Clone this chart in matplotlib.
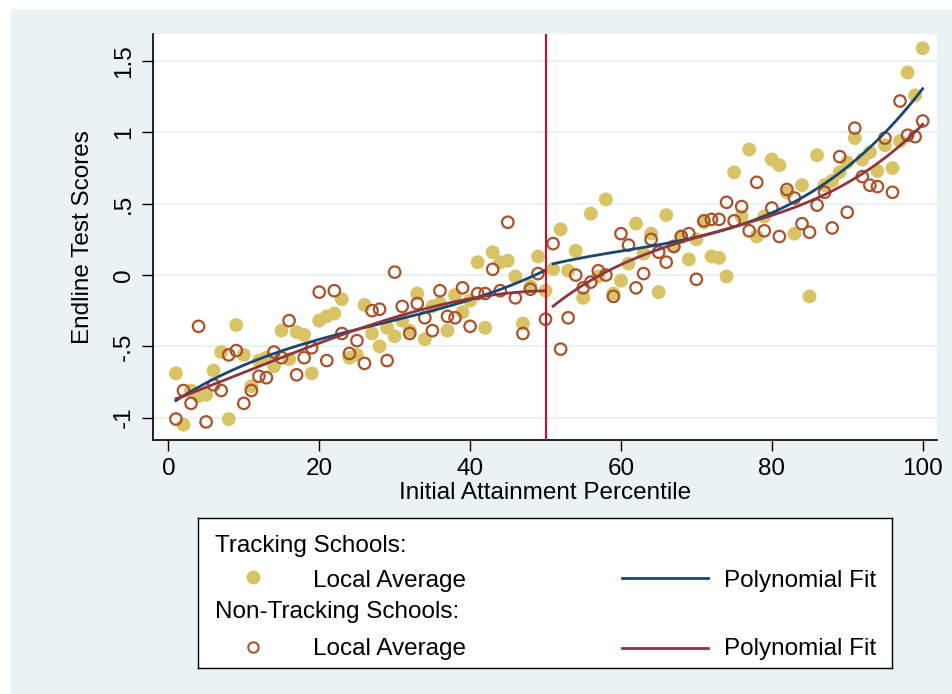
import numpy as np
import matplotlib.pyplot as plt
from matplotlib.patches import Rectangle
from matplotlib.lines import Line2D

plt.rcParams['font.family'] = ['Liberation Sans', 'DejaVu Sans']

# percentile bins 1..100
pct = np.arange(1, 101)

# local averages, tracking schools
track = [-0.69, -1.05, -0.81, -0.85, -0.84, -0.67, -0.54, -1.01, -0.35, -0.56,
         -0.78, -0.60, -0.58, -0.64, -0.39, -0.59, -0.40, -0.42, -0.69, -0.32,
         -0.29, -0.27, -0.17, -0.58, -0.56, -0.21, -0.41, -0.50, -0.37, -0.43,
         -0.32, -0.39, -0.13, -0.45, -0.22, -0.20, -0.39, -0.14, -0.26, -0.18,
         0.09, -0.37, 0.16, 0.09, 0.10, -0.01, -0.34, -0.08, 0.13, -0.11,
         0.04, 0.32, 0.03, 0.17, -0.16, 0.43, -0.01, 0.53, -0.13, -0.04,
         0.08, 0.36, 0.15, 0.29, -0.12, 0.42, 0.20, 0.27, 0.11, 0.25,
         0.37, 0.13, 0.12, -0.01, 0.72, 0.41, 0.88, 0.27, 0.41, 0.81,
         0.77, 0.58, 0.29, 0.63, -0.15, 0.84, 0.63, 0.66, 0.72, 0.79,
         0.96, 0.81, 0.86, 0.73, 0.91, 0.75, 0.94, 1.42, 1.26, 1.59]

# local averages, non-tracking schools
nontrack = [-1.01, -0.81, -0.90, -0.36, -1.03, -0.77, -0.81, -0.56, -0.53, -0.90,
            -0.81, -0.71, -0.72, -0.54, -0.58, -0.32, -0.70, -0.58, -0.51, -0.12,
            -0.60, -0.11, -0.41, -0.55, -0.46, -0.62, -0.25, -0.24, -0.60, 0.02,
            -0.22, -0.41, -0.20, -0.30, -0.39, -0.11, -0.29, -0.30, -0.09, -0.36,
            -0.13, -0.13, 0.04, -0.11, 0.37, -0.16, -0.41, -0.10, 0.01, -0.31,
            0.22, -0.52, -0.30, 0.00, -0.09, -0.05, 0.03, 0.00, -0.15, 0.29,
            0.21, -0.09, 0.01, 0.25, 0.16, 0.09, 0.20, 0.27, 0.29, -0.03,
            0.38, 0.39, 0.39, 0.51, 0.38, 0.48, 0.31, 0.65, 0.31, 0.47,
            0.27, 0.60, 0.54, 0.36, 0.30, 0.49, 0.58, 0.33, 0.83, 0.44,
            1.03, 0.69, 0.63, 0.62, 0.96, 0.58, 1.22, 0.98, 0.97, 1.08]

cutoff = 50
yticks = [-1, -0.5, 0, 0.5, 1, 1.5]
ytick_labels = ['-1', '-.5', '0', '.5', '1', '1.5']
xticks = [0, 20, 40, 60, 80, 100]

bg = '#EAF2F3'
c_track = '#D8C467'
c_non = '#A8532B'
c_blue = '#1A476F'
c_red = '#90353B'
c_cut = '#C8102E'

track = np.array(track)
nontrack = np.array(nontrack)


def polyfit_side(x, y, lo, hi, deg=3):
    m = (x >= lo) & (x <= hi)
    coef = np.polyfit(x[m], y[m], deg)
    xs = np.linspace(lo, hi, 100)
    return xs, np.polyval(coef, xs)


fs = 17.5

fig = plt.figure(figsize=(9.53, 6.94), dpi=100)
fig.patch.set_facecolor('white')
fig.patches.append(Rectangle((11 / 953, 0), 1, 1 - 9 / 694, transform=fig.transFigure,
                             facecolor=bg, edgecolor='none', zorder=-10))

ax = fig.add_axes([153.3 / 953, 1 - 440.3 / 694, (937 - 153.3) / 953, (440.3 - 34) / 694])
ax.set_facecolor('white')
ax.set_xlim(-2, 101.9)
ax.set_ylim(-1.159, 1.69)

for yv in yticks:
    ax.axhline(yv, color=bg, lw=1.5, zorder=0)

ax.scatter(pct, track, s=100, color=c_track, edgecolors='none', zorder=2)
ax.scatter(pct, nontrack, s=68, facecolors='none', edgecolors=c_non, linewidths=1.6, zorder=3)

for y, c in [(track, c_blue), (nontrack, c_red)]:
    xs, ys = polyfit_side(pct, y, 1, cutoff)
    ax.plot(xs, ys, color=c, lw=2, zorder=4)
    xs, ys = polyfit_side(pct, y, cutoff + 1, 100)
    ax.plot(xs, ys, color=c, lw=2, zorder=4)

ax.axvline(cutoff, color=c_cut, lw=1.5, zorder=5)

for s in ['top', 'right']:
    ax.spines[s].set_visible(False)
for s in ['left', 'bottom']:
    ax.spines[s].set_linewidth(1.2)

ax.set_yticks(yticks)
ax.set_yticklabels(ytick_labels, rotation=90, va='center')
ax.set_xticks(xticks)
ax.tick_params(labelsize=fs, length=8, width=1, pad=5)
ax.set_xlabel('Initial Attainment Percentile', fontsize=fs, labelpad=1)
ax.set_ylabel('Endline Test Scores', fontsize=fs, labelpad=14)

# legend box drawn in pixel coordinates
lax = fig.add_axes([198.3 / 953, 1 - 668.3 / 694, (891.7 - 198.3) / 953, 150 / 694])
lax.set_xlim(198.3, 891.7)
lax.set_ylim(668.3, 518.3)
lax.set_xticks([])
lax.set_yticks([])
lax.set_facecolor('white')
for s in lax.spines.values():
    s.set_linewidth(1)

lax.text(215, 551.7, 'Tracking Schools:', fontsize=fs, va='baseline')
lax.plot([253], [577], 'o', ms=10, color=c_track, mec='none')
lax.text(313, 587.3, 'Local Average', fontsize=fs, va='baseline')
lax.add_line(Line2D([622, 708], [577.5, 577.5], color=c_blue, lw=2))
lax.text(876, 587.3, 'Polynomial Fit', fontsize=fs, va='baseline', ha='right')

lax.text(215, 618.3, 'Non-Tracking Schools:', fontsize=fs, va='baseline')
lax.plot([253], [647], 'o', ms=7.5, mfc='none', mec=c_non, mew=1.5)
lax.text(313, 655, 'Local Average', fontsize=fs, va='baseline')
lax.add_line(Line2D([622, 708], [647.5, 647.5], color=c_red, lw=2))
lax.text(876, 655, 'Polynomial Fit', fontsize=fs, va='baseline', ha='right')

fig.savefig('out.png', dpi=100, facecolor=fig.get_facecolor())
